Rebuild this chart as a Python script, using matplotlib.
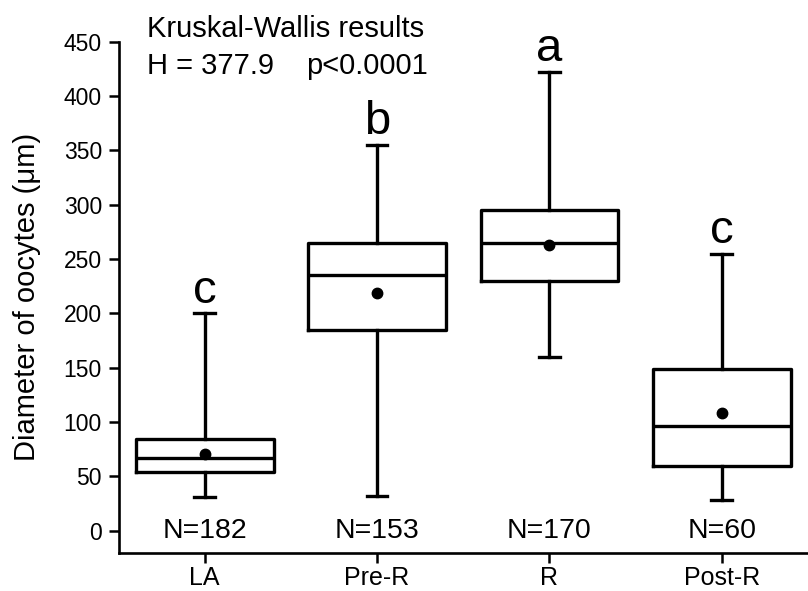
import matplotlib
matplotlib.use("Agg")
import matplotlib.pyplot as plt

plt.rcParams['font.family'] = ['Liberation Sans', 'DejaVu Sans']

# Data
groups = ["LA", "Pre-R", "R", "Post-R"]
whisker_low = [31, 32, 160, 28]
q1 = [54, 185, 230, 60]
median = [67, 235, 265, 96]
q3 = [84, 265, 295, 149]
whisker_high = [200, 355, 422, 255]
means = [71, 219, 263, 108]
n_obs = [182, 153, 170, 60]
letters = ["c", "b", "a", "c"]

stats = []
for i, g in enumerate(groups):
    stats.append(dict(label=g, whislo=whisker_low[i], q1=q1[i], med=median[i],
                      q3=q3[i], whishi=whisker_high[i], mean=means[i], fliers=[]))

fig = plt.figure(figsize=(8.08, 5.91), dpi=100)
ax = fig.add_axes([0.1467, 0.0651, 0.8533, 0.8643])

lw = 2.4
pos = list(range(1, len(groups) + 1))
ax.bxp(stats, positions=pos, widths=0.8, showmeans=True, showfliers=False,
       boxprops=dict(color="black", linewidth=lw),
       medianprops=dict(color="black", linewidth=lw),
       whiskerprops=dict(color="black", linewidth=lw),
       capprops=dict(color="black", linewidth=lw),
       capwidths=0.12,
       meanprops=dict(marker="o", markerfacecolor="black", markeredgecolor="black", markersize=7.5))

# significance letters above the whiskers
for p, top, let in zip(pos, whisker_high, letters):
    ax.text(p, top + 10, let, ha="center", va="baseline", fontsize=34)

# sample sizes
for p, n in zip(pos, n_obs):
    ax.text(p, -7, f"N={n}", ha="center", va="baseline", fontsize=20.5)

ax.text(0.665, 454.5, "Kruskal-Wallis results", fontsize=21, va="baseline")
ax.text(0.665, 420, "H = 377.9", fontsize=21, va="baseline")
ax.text(2.295, 420, "p<0.0001", fontsize=21, va="baseline", ha="right")

ax.set_xlim(0.5, 4.5)
ax.set_ylim(-20, 450)
ax.set_yticks(range(0, 451, 50))
ax.set_xticks(pos)
ax.set_xticklabels(groups)
ax.set_ylabel("Diameter of oocytes (μm)", fontsize=21)
ax.yaxis.set_label_coords(-0.113, 0.5)
ax.tick_params(axis="both", width=1.8, length=7, direction="out")
ax.tick_params(axis="y", labelsize=16.5, pad=5)
ax.tick_params(axis="x", labelsize=18, pad=3)
ax.spines["top"].set_visible(False)
ax.spines["right"].set_visible(False)
ax.spines["left"].set_linewidth(1.9)
ax.spines["bottom"].set_linewidth(1.9)

fig.savefig("out.png", dpi=100)
